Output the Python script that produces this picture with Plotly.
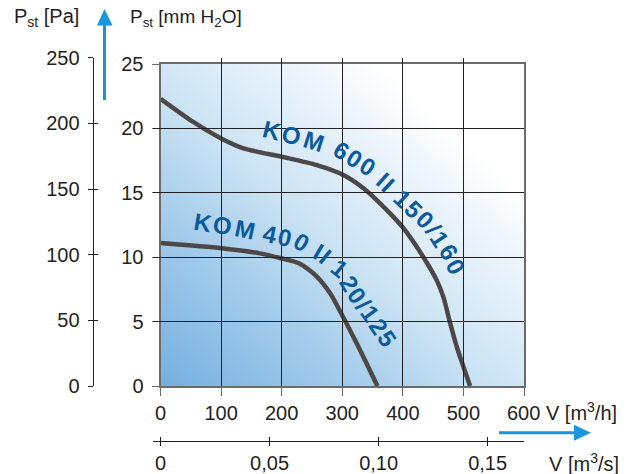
import math
import base64
import plotly.graph_objects as go

W, H = 642, 474

# ---------------- data ----------------
v_600 = [0, 54, 101, 137, 200, 258, 301, 335, 384, 401, 434, 456, 467, 478, 489, 500, 511]
p_600 = [22.3, 20.5, 19.2, 18.45, 17.8, 17.15, 16.4, 15.35, 13.15, 12.25, 10.0, 8.2, 6.9, 4.9, 3.05, 1.5, 0]
v_400 = [0, 101, 164, 200, 230, 258, 280, 301, 324, 340, 358]
p_400 = [11.1, 10.7, 10.3, 9.9, 9.5, 8.5, 7.2, 5.4, 3.3, 1.76, 0]

name_600 = "KOM 600 II 150/160"
name_400 = "KOM 400 II 120/125"

x_ticks = [0, 100, 200, 300, 400, 500, 600]
x_ticktext = ["0", "100", "200", "300", "400", "500", " "]
y_ticks = [0, 5, 10, 15, 20, 25]
pa_ticks = [0, 50, 100, 150, 200, 250]
ms_ticks = [0, 0.05, 0.10, 0.15]
ms_ticktext = ["0", "0,05", "0,10", "0,15"]

# ---------------- layout geometry (pixels) ----------------
X0, X1 = 160.5, 524.0      # V = 0 .. 600 m3/h
Y0, Y1 = 386.0, 64.0       # P = 0 .. 25 mm H2O
PA_TOP = Y0 - 250 / 9.81 * (Y0 - Y1) / 25.0
PA_X = 92.7
MS_Y = 441.0
MS_X0 = 152.7

FONT = "Liberation Sans, Arial, sans-serif"
TXT = "#231f20"
BLUE = "#1a96dc"
LABEL = "#0b5aa0"
CURVE = "#4d4848"


def px2v(px):
    return (px - X0) / (X1 - X0) * 600.0


def py2p(py):
    return (Y0 - py) / (Y0 - Y1) * 25.0


def pxx(px):
    return px / W


def pyy(py):
    return (H - py) / H


fig = go.Figure()

fig.add_trace(go.Scatter(x=v_600, y=p_600, mode="lines", line=dict(color=CURVE, width=4.5, shape="spline", smoothing=0.7),
                         hoverinfo="skip", showlegend=False))
fig.add_trace(go.Scatter(x=v_400, y=p_400, mode="lines", line=dict(color=CURVE, width=4.5, shape="spline", smoothing=0.7),
                         hoverinfo="skip", showlegend=False))
# empty traces to register secondary axes
fig.add_trace(go.Scatter(x=[], y=[], xaxis="x", yaxis="y2", showlegend=False, hoverinfo="skip"))
fig.add_trace(go.Scatter(x=[], y=[], xaxis="x", yaxis="y3", showlegend=False, hoverinfo="skip"))
fig.add_trace(go.Scatter(x=[], y=[], xaxis="x2", yaxis="y", showlegend=False, hoverinfo="skip"))
fig.add_trace(go.Scatter(x=[], y=[], xaxis="x3", yaxis="y", showlegend=False, hoverinfo="skip"))

# ---------------- background gradient ----------------
svg = (
    '<svg xmlns="http://www.w3.org/2000/svg" width="365" height="322" viewBox="0 0 365 322" preserveAspectRatio="none">'
    '<defs><linearGradient id="g" x1="0" y1="1" x2="1" y2="0">'
    '<stop offset="0" stop-color="#74afe0"/>'
    '<stop offset="0.28" stop-color="#a6cdeb"/>'
    '<stop offset="0.47" stop-color="#cde4f4"/>'
    '<stop offset="0.64" stop-color="#e6f1fa"/>'
    '<stop offset="0.8" stop-color="#ffffff"/>'
    '<stop offset="1" stop-color="#ffffff"/>'
    '</linearGradient></defs>'
    '<rect x="0" y="0" width="365" height="322" fill="url(#g)"/></svg>'
)
src = "data:image/svg+xml;base64," + base64.b64encode(svg.encode()).decode()
fig.add_layout_image(dict(source=src, xref="x", yref="y", x=0, y=25, sizex=600, sizey=25,
                          sizing="stretch", layer="below", xanchor="left", yanchor="top"))

# ---------------- curved labels ----------------
CW = {"K": .722, "O": .778, "M": .833, " ": .278, "I": .278, "/": .278}


def curved(text, path, size, lift):
    seg = []
    total = 0.0
    for (ax, ay), (bx, by) in zip(path[:-1], path[1:]):
        L = math.hypot(bx - ax, by - ay)
        seg.append((ax, ay, bx, by, L, total))
        total += L
    widths = [CW.get(c, .556) for c in text]
    centers = []
    acc = 0.0
    for w in widths:
        centers.append(acc + w / 2)
        acc += w
    c0, c1 = centers[0], centers[-1]
    anns = []
    for ch, c in zip(text, centers):
        if ch == " ":
            continue
        s = (c - c0) / (c1 - c0) * total
        for ax, ay, bx, by, L, s0 in seg:
            if s <= s0 + L + 1e-9:
                t = (s - s0) / L if L else 0
                x = ax + (bx - ax) * t
                y = ay + (by - ay) * t
                a = math.atan2(by - ay, bx - ax)
                break
        x += math.sin(a) * lift
        y -= math.cos(a) * lift
        anns.append(dict(text=ch, x=px2v(x), y=py2p(y), xref="x", yref="y", showarrow=False,
                         textangle=math.degrees(a), xanchor="center", yanchor="middle",
                         font=dict(family=FONT, size=size, color=LABEL, weight="bold")))
    return anns


path_600 = [(270, 138.3), (310, 148.3), (336.7, 156.7), (363.3, 173.3), (378.3, 186.7),
            (403.3, 210), (426.7, 233.3), (441.7, 256.7), (448.3, 270)]
path_400 = [(201.7, 230), (241.7, 236.7), (296.7, 248.3), (316.7, 260), (335, 275),
            (350, 300), (366.7, 323.3), (380, 343.3)]

annotations = curved(name_600, path_600, 24, 8) + curved(name_400, path_400, 24, 8)

# ---------------- titles ----------------
def title(text, px, py, size=19):
    return dict(text=text, x=pxx(px), y=pyy(py), xref="paper", yref="paper", showarrow=False,
                xanchor="left", yanchor="middle", font=dict(family=FONT, size=size, color=TXT))


annotations += [
    title("P<sub>st</sub> [Pa]", 12, 18, 20),
    title("P<sub>st</sub> [mm H<sub>2</sub>O]", 128, 18),
    title("600 V [m<sup>3</sup>/h]", 505, 411, 20),
    title("V [m<sup>3</sup>/s]", 547, 462, 20),
]

# ---------------- arrows ----------------
shapes = [
    dict(type="line", xref="paper", yref="paper", x0=pxx(104.5), x1=pxx(104.5), y0=pyy(100), y1=pyy(24),
         line=dict(color=BLUE, width=3)),
    dict(type="path", xref="paper", yref="paper",
         path=f"M {pxx(97)},{pyy(25.5)} L {pxx(112.5)},{pyy(25.5)} L {pxx(104.5)},{pyy(9)} Z",
         fillcolor=BLUE, line=dict(width=0)),
    dict(type="line", xref="paper", yref="paper", x0=pxx(499), x1=pxx(576), y0=pyy(432.7), y1=pyy(432.7),
         line=dict(color=BLUE, width=3)),
    dict(type="path", xref="paper", yref="paper",
         path=f"M {pxx(574)},{pyy(424.7)} L {pxx(574)},{pyy(440.7)} L {pxx(591)},{pyy(432.7)} Z",
         fillcolor=BLUE, line=dict(width=0)),
]

tickfont = dict(family=FONT, size=20, color=TXT)
ms_lo = -((X0 - MS_X0) / ((X1 - X0) / 600.0)) / 3600.0

fig.update_layout(
    width=W, height=H,
    margin=dict(l=0, r=0, t=0, b=0, autoexpand=False),
    paper_bgcolor="white",
    plot_bgcolor="rgba(0,0,0,0)",
    showlegend=False,
    xaxis=dict(domain=[X0 / W, X1 / W], range=[0, 600], tickvals=x_ticks, ticktext=x_ticktext,
               ticks="outside", ticklen=8, tickcolor="#6b6b6b", tickwidth=1.3,
               showgrid=True, gridcolor=TXT, gridwidth=1.3, zeroline=False,
               showline=True, mirror=True, linecolor="#6b6b6b", linewidth=2,
               tickfont=tickfont, anchor="y", fixedrange=True),
    yaxis=dict(domain=[pyy(Y0), pyy(Y1)], range=[0, 25], tickvals=y_ticks,
               ticks="outside", ticklen=7, tickcolor="#6b6b6b", tickwidth=1.3,
               showgrid=True, gridcolor=TXT, gridwidth=1.3, zeroline=False,
               showline=True, mirror=True, linecolor="#6b6b6b", linewidth=2,
               tickfont=tickfont, anchor="x", fixedrange=True, ticklabelstandoff=4),
    yaxis2=dict(domain=[pyy(Y0), pyy(PA_TOP)], range=[0, 250], tickvals=pa_ticks,
                anchor="free", position=pxx(PA_X), side="left",
                ticks="outside", ticklen=5, tickcolor=TXT, tickwidth=1.2,
                showgrid=False, zeroline=False, showline=True, linecolor=TXT, linewidth=1.2,
                tickfont=tickfont, fixedrange=True, ticklabelstandoff=4),
    yaxis3=dict(overlaying="y2", range=[0, 250], tickvals=pa_ticks, matches="y2",
                anchor="free", position=pxx(PA_X), side="left",
                ticks="inside", ticklen=4, tickcolor=TXT, tickwidth=1.2,
                showticklabels=False, showgrid=False, zeroline=False, showline=False, fixedrange=True),
    xaxis2=dict(domain=[MS_X0 / W, X1 / W], range=[ms_lo, 600 / 3600.0], tickvals=ms_ticks, ticktext=ms_ticktext,
                anchor="free", position=pyy(MS_Y), side="bottom",
                ticks="outside", ticklen=4, tickcolor=TXT, tickwidth=1.2,
                showgrid=False, zeroline=False, showline=True, linecolor=TXT, linewidth=1.3,
                tickfont=tickfont, fixedrange=True),
    xaxis3=dict(overlaying="x2", range=[ms_lo, 600 / 3600.0], tickvals=ms_ticks, matches="x2",
                anchor="free", position=pyy(MS_Y), side="bottom",
                ticks="inside", ticklen=4, tickcolor=TXT, tickwidth=1.2,
                showticklabels=False, showgrid=False, zeroline=False, showline=False, fixedrange=True),
    annotations=annotations,
    shapes=shapes,
)

fig.write_html("out.html", config={"displayModeBar": False},
               post_script="document.body.style.margin='0';document.body.style.padding='0';")
